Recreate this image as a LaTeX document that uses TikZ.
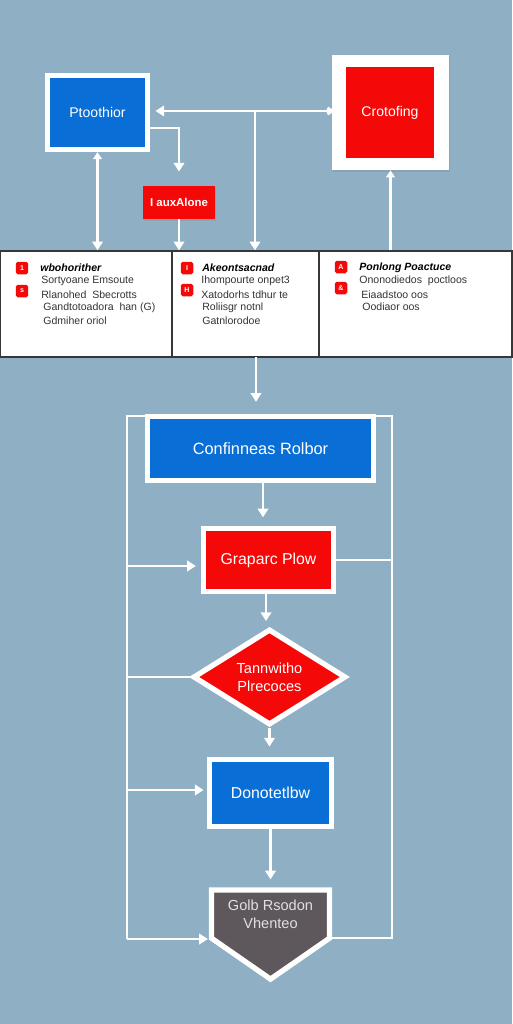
\documentclass[tikz,border=0pt]{standalone}
\usepackage{fontspec}
\setmainfont{Liberation Sans}
\usetikzlibrary{arrows.meta,shapes.geometric,calc,shadows}
\definecolor{bgc}{RGB}{142,175,196}
\definecolor{fblue}{RGB}{10,110,215}
\definecolor{fred}{RGB}{245,8,8}
\definecolor{fgray}{RGB}{94,88,92}
\definecolor{cellline}{RGB}{55,55,55}
\tikzset{
  box/.style={draw=white, line width=3pt, text=white, inner sep=0pt, align=center,
    font=\fontsize{8}{9.5}\selectfont,
    drop shadow={shadow xshift=0.6pt, shadow yshift=-0.9pt, opacity=0.25}},
  bluebox/.style={box, fill=fblue},
  redbox/.style={box, fill=fred},
  arr/.style={draw=white, line width=1.6pt, -{Triangle[width=6pt,length=5pt]}},
  ln/.style={draw=white, line width=1.6pt},
  cell/.style={draw=cellline, fill=white, line width=0.8pt, inner sep=0pt},
  badge/.style={fill=fred, rounded corners=1pt, minimum size=0.25cm, inner sep=0pt,
    text=white, font=\fontsize{4}{4}\selectfont\bfseries},
  ttxt/.style={anchor=west, inner sep=0pt, font=\fontsize{6}{7}\selectfont, text=black!80},
  thead/.style={anchor=west, inner sep=0pt, font=\fontsize{6}{7}\selectfont\bfseries\itshape, text=black},
}
\begin{document}
\begin{tikzpicture}[x=0.02cm, y=-0.02cm]
\useasboundingbox (0,0) rectangle (512,1024);
\fill[bgc] (0,0) rectangle (512,1024);

% ---- top nodes
\node[bluebox, minimum width=2cm, minimum height=1.48cm] (b1) at (97.5,112.5) {Ptoothior};
\node[fill=white, inner sep=0pt, minimum width=2.34cm, minimum height=2.3cm,
  drop shadow={shadow xshift=0.6pt, shadow yshift=-0.9pt, opacity=0.25}] (r1) at (390.5,112.5) {};
\node[fill=fred, inner sep=0pt, minimum width=1.76cm, minimum height=1.82cm, text=white,
  font=\fontsize{8}{9.5}\selectfont] (r1i) at (390,112.5) {Crotofing};
\node[fill=fred, inner sep=0pt, minimum width=1.44cm, minimum height=0.66cm, text=white,
  font=\fontsize{6.5}{7}\selectfont\bfseries,
  drop shadow={shadow xshift=0.6pt, shadow yshift=-0.9pt, opacity=0.25}] (sr) at (179,202.5) {I auxAlone};

% ---- table
\node[cell, minimum width=3.44cm, minimum height=2.12cm] (c1) at (86,304) {};
\node[cell, minimum width=2.94cm, minimum height=2.12cm] (c2) at (245.5,304) {};
\node[cell, minimum width=3.86cm, minimum height=2.12cm] (c3) at (415.5,304) {};

\node[badge] (k11) at (22,268) {1};
\node[badge] (k12) at (22,291) {s};
\node[thead] (h1) at (40,268) {wbohorither};
\node[ttxt] (t11) at (41,281) {Sortyoane Emsoute};
\node[ttxt] (t12) at (41,295) {Rlanohed\ \ Sbecrotts};
\node[ttxt] (t13) at (43,308) {Gandtotoadora\ \ han (G)};
\node[ttxt] (t14) at (43,321) {Gdmiher oriol};

\node[badge] (k21) at (187,268) {I};
\node[badge] (k22) at (187,290) {H};
\node[thead] (h2) at (202,268) {Akeontsacnad};
\node[ttxt] (t21) at (201,281) {Ihompourte onpet3};
\node[ttxt] (t22) at (201,295) {Xatodorhs tdhur te};
\node[ttxt] (t23) at (202,308) {Roliisgr notnl};
\node[ttxt] (t24) at (202,321) {Gatnlorodoe};

\node[badge] (k31) at (341,267) {A};
\node[badge] (k32) at (341,288) {\&};
\node[thead] (h3) at (359,268) {Ponlong Poactuce};
\node[ttxt] (t31) at (359,281) {Ononodiedos\ \ poctloos};
\node[ttxt] (t32) at (361,295) {Eiaadstoo oos};
\node[ttxt] (t33) at (362,307) {Oodiaor oos};

% ---- top connectors
\coordinate (j) at (255,111);
\draw[white, line width=1.6pt, {Kite[width=5pt,length=5pt]}-{Triangle[width=6pt,length=5pt]}, shorten >=3pt]
  ([xshift=0.06cm]r1.west |- j) -- (b1.east |- j);
\draw[arr] (j) -- (j |- c2.north);
\draw[arr, shorten >=8pt] ([yshift=-0.31cm]b1.east) -| (sr.north);
\draw[arr] (sr.south) -- (sr.south |- c2.north);
\draw[white, line width=1.6pt, {Triangle[width=5pt,length=4pt]}-{Triangle[width=6pt,length=5pt]}]
  (b1.south) -- (b1.south |- c1.north);
\draw[white, line width=1.6pt, -{Triangle[width=5pt,length=4pt]}] (c3.north -| r1.south) -- (r1.south);

% ---- lower nodes
\node[bluebox, minimum width=4.51cm, minimum height=1.27cm, font=\fontsize{9.3}{11}\selectfont] (bb) at (260.5,448.5) {Confinneas Rolbor};
\node[redbox, minimum width=2.59cm, minimum height=1.25cm, font=\fontsize{9}{11}\selectfont] (rp) at (268.5,560) {Graparc Plow};
\node[box, fill=fred, diamond, minimum width=3.06cm, minimum height=1.92cm, font=\fontsize{8.3}{10}\selectfont] (dm) at (269.5,677) {Tannwitho\\Plrecoces};
\node[bluebox, minimum width=2.43cm, minimum height=1.33cm, font=\fontsize{9}{11}\selectfont] (bb2) at (270.5,793) {Donotetlbw};
\node[inner sep=0pt, minimum width=2.35cm, minimum height=0.95cm, align=center, text=white,
  font=\fontsize{8.5}{10}\selectfont] (pent) at (270.5,914) {};
\path[fill=fgray, draw=white, line width=3pt, line join=miter,
  drop shadow={shadow xshift=0.6pt, shadow yshift=-0.9pt, opacity=0.25}]
  (pent.north west) -- (pent.north east) -- (pent.south east)
  -- ($(pent.south)+(0,41)$) -- (pent.south west) -- cycle;
\node[inner sep=0pt, align=center, text=white!88!black, font=\fontsize{8.3}{10}\selectfont] (ptxt) at (pent.center) {Golb Rsodon\\Vhenteo};

% ---- lower connectors
\coordinate (t2) at (256,357);
\draw[arr, shorten >=7pt] (t2) -- (t2 |- bb.north);
\draw[arr, shorten >=5pt] ([xshift=0.05cm]bb.south) -- ([xshift=0.05cm]bb.south |- rp.north);
\draw[arr, shorten >=3pt] ([xshift=-0.05cm]rp.south) -- ([xshift=-0.05cm]rp.south |- dm.north);
\draw[arr, shorten >=6pt] (dm.south) -- (dm.south |- bb2.north);
\draw[arr, shorten >=6pt] (bb2.south) -- (bb2.south |- pent.north);

\coordinate (lt) at (127,416);
\coordinate (lb) at (127,939);
\coordinate (rt) at (392,416);
\coordinate (rb) at (392,938);
\coordinate (l1) at (127,566);
\coordinate (l2) at (127,677);
\coordinate (l3) at (127,790);

\draw[ln] (bb.west |- lt) -- (lt) -- (lb);
\draw[arr, shorten >=2pt] (lb) -- (lb -| pent.west);
\draw[ln] (bb.east |- rt) -- (rt) -- (rb) -- (rb -| pent.east);
\draw[arr, shorten >=3pt] (l1) -- (l1 -| rp.west);
\draw[ln] (l2) -- (dm.west);
\draw[arr, shorten >=2pt] (l3) -- (l3 -| bb2.west);
\draw[ln] (rp.east) -- (rp.east -| rt);
\end{tikzpicture}
\end{document}
